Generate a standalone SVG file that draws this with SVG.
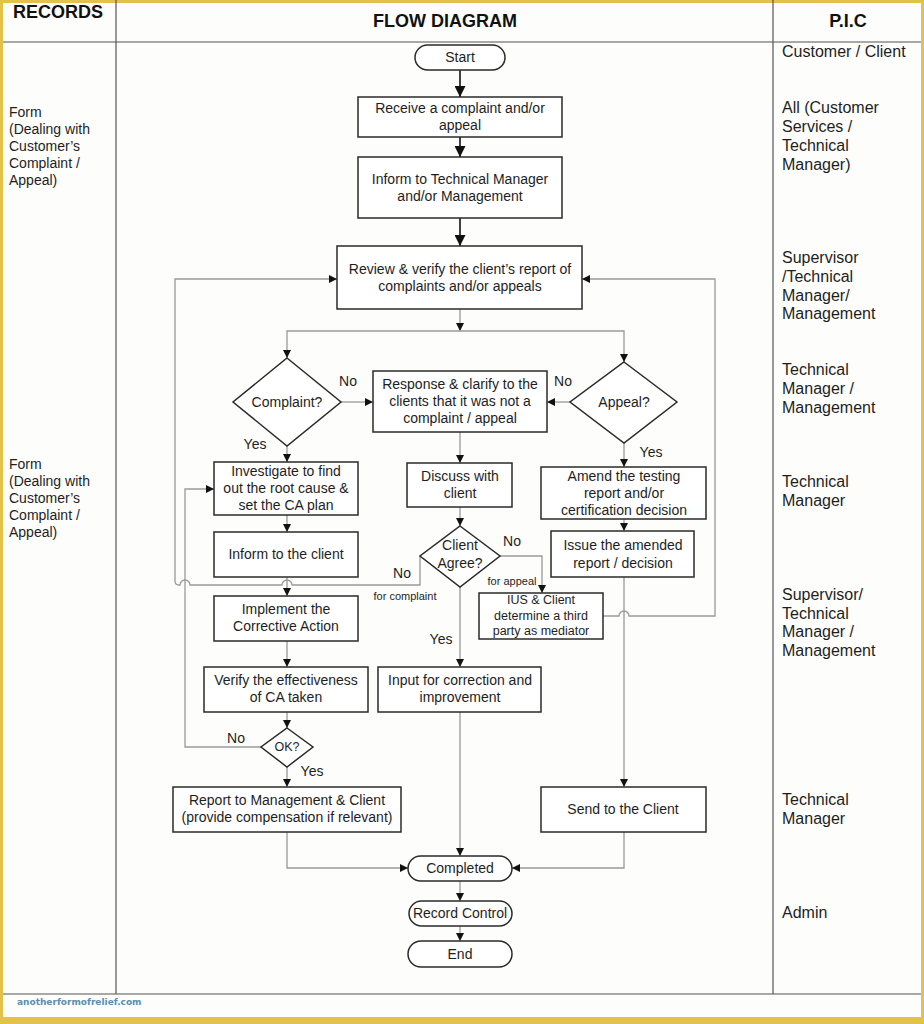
<svg xmlns="http://www.w3.org/2000/svg" width="924" height="1024" viewBox="0 0 924 1024">
<defs>
<style>
.box{fill:#fff;stroke:#2a2a2a;stroke-width:1.5}
.t{font-family:"Liberation Sans",Arial,sans-serif;font-size:14px;fill:#1e1e1e;text-anchor:middle}
.s{font-size:12.5px}
.lbl{font-family:"Liberation Sans",Arial,sans-serif;font-size:14px;fill:#1e1e1e;text-anchor:middle}
.sm{font-size:11px}
.side{font-family:"Liberation Sans",Arial,sans-serif;font-size:14px;fill:#1e1e1e}
.pic{font-family:"Liberation Sans",Arial,sans-serif;font-size:16px;fill:#1e1e1e}
.hd{font-family:"Liberation Sans",Arial,sans-serif;font-size:18px;font-weight:bold;fill:#111;text-anchor:middle}
.grid{stroke:#555;stroke-width:1.2;fill:none}
.c{fill:none;stroke:#9a9a9a;stroke-width:1.3}
.cb{fill:none;stroke:#111;stroke-width:1.6}
</style>
<marker id="a" viewBox="0 0 8 8" refX="8" refY="4" markerWidth="8" markerHeight="8" markerUnits="userSpaceOnUse" orient="auto"><path d="M0,0 L8,4 L0,8 z" fill="#111"/></marker>
<marker id="ab" viewBox="0 0 8 8" refX="8" refY="4" markerWidth="11" markerHeight="11" markerUnits="userSpaceOnUse" orient="auto"><path d="M0,0 L8,4 L0,8 z" fill="#111"/></marker>
</defs>
<rect x="0" y="0" width="924" height="1024" fill="#fdfdfb"/>
<g id="frame">
<rect x="0" y="0" width="924" height="3" fill="#e2c24a"/>
<rect x="0" y="0" width="3" height="1024" fill="#e2c24a"/>
<rect x="921" y="0" width="3" height="1024" fill="#e2c24a"/>
<rect x="0" y="1017" width="924" height="7" fill="#e2c24a"/>
<path class="grid" d="M116,0 V994 M773,0 V994 M3,42 H921 M3,994 H921"/>
<text class="hd" x="58" y="18">RECORDS</text>
<text class="hd" x="445" y="27">FLOW DIAGRAM</text>
<text class="hd" x="848" y="27">P.I.C</text>
<text x="17" y="1005" font-family="DejaVu Sans, sans-serif" font-size="9" font-weight="bold" fill="#5a8eb0">anotherformofrelief.com</text>
</g>
<g id="records">
<text class="side" x="9" y="117">Form</text>
<text class="side" x="9" y="134">(Dealing with</text>
<text class="side" x="9" y="151">Customer’s</text>
<text class="side" x="9" y="168">Complaint /</text>
<text class="side" x="9" y="185">Appeal)</text>
<text class="side" x="9" y="469">Form</text>
<text class="side" x="9" y="486">(Dealing with</text>
<text class="side" x="9" y="503">Customer’s</text>
<text class="side" x="9" y="520">Complaint /</text>
<text class="side" x="9" y="537">Appeal)</text>
</g>
<g id="pic">
<text class="pic" x="782" y="57">Customer / Client</text>
<text class="pic" x="782" y="113">All (Customer</text>
<text class="pic" x="782" y="132">Services /</text>
<text class="pic" x="782" y="151">Technical</text>
<text class="pic" x="782" y="170">Manager)</text>
<text class="pic" x="782" y="263">Supervisor</text>
<text class="pic" x="782" y="282">/Technical</text>
<text class="pic" x="782" y="301">Manager/</text>
<text class="pic" x="782" y="319">Management</text>
<text class="pic" x="782" y="375">Technical</text>
<text class="pic" x="782" y="394">Manager /</text>
<text class="pic" x="782" y="413">Management</text>
<text class="pic" x="782" y="487">Technical</text>
<text class="pic" x="782" y="506">Manager</text>
<text class="pic" x="782" y="600">Supervisor/</text>
<text class="pic" x="782" y="619">Technical</text>
<text class="pic" x="782" y="637">Manager /</text>
<text class="pic" x="782" y="656">Management</text>
<text class="pic" x="782" y="805">Technical</text>
<text class="pic" x="782" y="824">Manager</text>
<text class="pic" x="782" y="918">Admin</text>
</g>
<g id="connectors">
<path class="cb" d="M460,70 V97" marker-end="url(#ab)"/>
<path class="cb" d="M460,137 V157" marker-end="url(#ab)"/>
<path class="cb" d="M460,218 V246" marker-end="url(#ab)"/>
<path class="c" d="M460,309 V331" marker-end="url(#a)"/>
<path class="c" d="M460,331 H287 V358" marker-end="url(#a)"/>
<path class="c" d="M460,331 H624 V362" marker-end="url(#a)"/>
<path class="c" d="M341,402 H373" marker-end="url(#a)"/>
<path class="c" d="M570,402 H547" marker-end="url(#a)"/>
<path class="c" d="M460,432 V463" marker-end="url(#a)"/>
<path class="c" d="M287,446 V462" marker-end="url(#a)"/>
<path class="c" d="M624,443 V467" marker-end="url(#a)"/>
<path class="c" d="M287,515 V532" marker-end="url(#a)"/>
<path class="c" d="M287,577 V596" marker-end="url(#a)"/>
<path class="c" d="M420,556 V585 H292 A5,5 0 0 0 282,585 H190 A5,5 0 0 0 180,585 H179 Q175,585 175,581 V279 H337" marker-end="url(#a)"/>
<path class="c" d="M261,747 H185 V489 H214" marker-end="url(#a)"/>
<path class="c" d="M460,507 V526" marker-end="url(#a)"/>
<path class="c" d="M500,556 H542 V593" marker-end="url(#a)"/>
<path class="c" d="M460,587 V667" marker-end="url(#a)"/>
<path class="c" d="M603,616 H619 A5,5 0 0 1 629,616 H715 V279 H582" marker-end="url(#a)"/>
<path class="c" d="M624,519 V531" marker-end="url(#a)"/>
<path class="c" d="M624,577 V787" marker-end="url(#a)"/>
<path class="c" d="M287,641 V667" marker-end="url(#a)"/>
<path class="c" d="M287,712 V728" marker-end="url(#a)"/>
<path class="c" d="M287,767 V787" marker-end="url(#a)"/>
<path class="c" d="M287,832 V868 H408" marker-end="url(#a)"/>
<path class="c" d="M624,832 V868 H512" marker-end="url(#a)"/>
<path class="c" d="M460,712 V856" marker-end="url(#a)"/>
<path class="c" d="M460,881 V901" marker-end="url(#a)"/>
<path class="c" d="M460,926 V941" marker-end="url(#a)"/>
<text class="lbl" x="348" y="386">No</text>
<text class="lbl" x="563" y="386">No</text>
<text class="lbl" x="255" y="449">Yes</text>
<text class="lbl" x="651" y="457">Yes</text>
<text class="lbl" x="402" y="578">No</text>
<text class="lbl sm" x="405" y="600">for complaint</text>
<text class="lbl" x="512" y="546">No</text>
<text class="lbl sm" x="512" y="585">for appeal</text>
<text class="lbl" x="441" y="644">Yes</text>
<text class="lbl" x="236" y="743">No</text>
<text class="lbl" x="312" y="776">Yes</text>
</g>
<g id="start"><rect class="box" x="415" y="45" width="90" height="25" rx="12.5"/><text class="t" x="460" y="62">Start</text></g>
<g id="receive"><rect class="box" x="358" y="97" width="204" height="40"/><text class="t" x="460" y="113">Receive a complaint and/or</text><text class="t" x="460" y="130">appeal</text></g>
<g id="inform-tm"><rect class="box" x="358" y="157" width="204" height="61"/><text class="t" x="460" y="184">Inform to Technical Manager</text><text class="t" x="460" y="201">and/or Management</text></g>
<g id="review"><rect class="box" x="337" y="246" width="245" height="63"/><text class="t" x="460" y="274">Review &amp; verify the client’s report of</text><text class="t" x="460" y="291">complaints and/or appeals</text></g>
<g id="complaint"><polygon class="box" points="287,358 341,402 287,446 233,402"/><text class="t" x="287" y="407">Complaint?</text></g>
<g id="response"><rect class="box" x="373" y="371" width="174" height="61"/><text class="t" x="460" y="389">Response &amp; clarify to the</text><text class="t" x="460" y="406">clients that it was not a</text><text class="t" x="460" y="423">complaint / appeal</text></g>
<g id="appeal"><polygon class="box" points="624,362 677,402 624,443 570,402"/><text class="t" x="624" y="407">Appeal?</text></g>
<g id="investigate"><rect class="box" x="214" y="462" width="144" height="53"/><text class="t" x="286" y="476">Investigate to find</text><text class="t" x="286" y="493">out the root cause &amp;</text><text class="t" x="286" y="510">set the CA plan</text></g>
<g id="discuss"><rect class="box" x="407" y="463" width="105" height="44"/><text class="t" x="460" y="481">Discuss with</text><text class="t" x="460" y="498">client</text></g>
<g id="amend"><rect class="box" x="541" y="467" width="165" height="52"/><text class="t" x="624" y="481">Amend the testing</text><text class="t" x="624" y="498">report and/or</text><text class="t" x="624" y="515">certification decision</text></g>
<g id="inform-client"><rect class="box" x="214" y="532" width="144" height="45"/><text class="t" x="286" y="559">Inform to the client</text></g>
<g id="client-agree"><polygon class="box" points="460,526 500,556 460,587 420,556"/><text class="t" x="460" y="550">Client</text><text class="t" x="460" y="568">Agree?</text></g>
<g id="issue"><rect class="box" x="551" y="531" width="143" height="46"/><text class="t" x="623" y="550">Issue the amended</text><text class="t" x="623" y="568">report / decision</text></g>
<g id="implement"><rect class="box" x="214" y="596" width="144" height="45"/><text class="t" x="286" y="614">Implement the</text><text class="t" x="286" y="631">Corrective Action</text></g>
<g id="mediator"><rect class="box" x="479" y="593" width="124" height="46"/><text class="t s" x="541" y="604">IUS &amp; Client</text><text class="t s" x="541" y="620">determine a third</text><text class="t s" x="541" y="635">party as mediator</text></g>
<g id="verify"><rect class="box" x="204" y="667" width="164" height="45"/><text class="t" x="286" y="685">Verify the effectiveness</text><text class="t" x="286" y="702">of CA taken</text></g>
<g id="input"><rect class="box" x="378" y="667" width="163" height="45"/><text class="t" x="460" y="685">Input for correction and</text><text class="t" x="460" y="702">improvement</text></g>
<g id="ok"><polygon class="box" points="287,728 313,747 287,767 261,747"/><text class="t s" x="287" y="751">OK?</text></g>
<g id="report"><rect class="box" x="173" y="787" width="228" height="45"/><text class="t" x="287" y="805">Report to Management &amp; Client</text><text class="t" x="287" y="822">(provide compensation if relevant)</text></g>
<g id="send"><rect class="box" x="541" y="787" width="165" height="45"/><text class="t" x="623" y="814">Send to the Client</text></g>
<g id="completed"><rect class="box" x="408" y="856" width="104" height="25" rx="12.5"/><text class="t" x="460" y="873">Completed</text></g>
<g id="record-control"><rect class="box" x="409" y="901" width="103" height="25" rx="12.5"/><text class="t" x="460" y="918">Record Control</text></g>
<g id="end"><rect class="box" x="408" y="941" width="104" height="26" rx="13"/><text class="t" x="460" y="959">End</text></g>
</svg>
